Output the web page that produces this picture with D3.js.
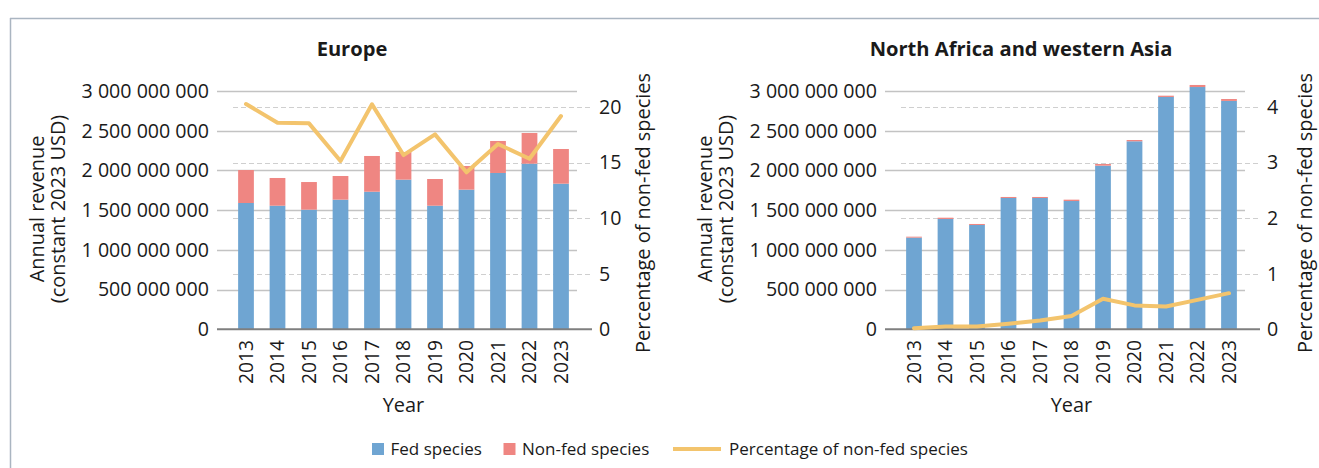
<!DOCTYPE html>
<html><head><meta charset="utf-8">
<script src="https://cdn.jsdelivr.net/npm/d3@7"></script>
<style>
body{margin:0;background:#fff}
svg{display:block}
text{font-family:"Open Sans",sans-serif;fill:#1a1a1a;font-weight:400}
</style>
</head><body>
<svg id="c" width="1319" height="468"></svg>
<script>
// ---------- DATA ----------
const years = ["2013","2014","2015","2016","2017","2018","2019","2020","2021","2022","2023"];
const europeFed    = [1590e6,1556e6,1506e6,1632e6,1732e6,1884e6,1556e6,1758e6,1968e6,2085e6,1833e6];
const europeNonFed = [415e6,349e6,348e6,298e6,450e6,348e6,336e6,298e6,403e6,386e6,437e6];
const europePct    = [20.26,18.58,18.52,15.13,20.23,15.67,17.53,14.12,16.66,15.34,19.18];
const nawaFed      = [1154e6,1389e6,1313e6,1653e6,1653e6,1615e6,2060e6,2367e6,2925e6,3050e6,2875e6];
const nawaNonFed   = [12e6,16e6,13e6,13e6,13e6,17e6,21e6,16e6,16e6,26e6,24e6];
const nawaPct      = [0.02,0.05,0.05,0.10,0.16,0.24,0.55,0.43,0.41,0.53,0.65];
const leftTicks    = [0,500e6,1000e6,1500e6,2000e6,2500e6,3000e6];
const europePctTicks = [0,5,10,15,20];
const nawaPctTicks   = [0,1,2,3,4];
const titles = ["Europe","North Africa and western Asia"];
const legendLabels = ["Fed species","Non-fed species","Percentage of non-fed species"];

// ---------- STYLE ----------
const C_FED = "#6fa5d2", C_NON = "#ef8682", C_LINE = "#f3c46d";
const svg = d3.select("#c");

function fitSize(txt, weight, target){
  const t = svg.append("text").attr("font-size",20).style("font-weight",weight).text(txt);
  const w = t.node().getComputedTextLength(); t.remove();
  return 20*target/w;
}
const W = 400;
const tickSize  = fitSize("3 000 000 000",W,127.5);
const yearSize  = fitSize("2013",W,44);
const titleSize = fitSize("North Africa and western Asia",700,303);
const axTitleSize = fitSize("Percentage of non-fed species",W,280);
const legSize   = fitSize("Percentage of non-fed species",W,239);

// frame
svg.append("line").attr("x1",10).attr("x2",1319).attr("y1",18.5).attr("y2",18.5).attr("stroke","#aab5c1").attr("stroke-width",1.5);
svg.append("line").attr("x1",10.5).attr("x2",10.5).attr("y1",18).attr("y2",468).attr("stroke","#aab5c1").attr("stroke-width",1.5);

const fmt = v => d3.format(",")(v).replace(/,/g," ");

const panels = [
  {dx:0, fed:europeFed, non:europeNonFed, pct:europePct, pctTicks:europePctTicks, pctMax:21.43,
   title:titles[0], titleX:352, rTitleX:643.5},
  {dx:668, fed:nawaFed, non:nawaNonFed, pct:nawaPct, pctTicks:nawaPctTicks, pctMax:4.286,
   title:titles[1], titleX:1021, rTitleX:1305}
];

const y0 = 329.3, yTop = 91;

panels.forEach(p => {
  const g = svg.append("g").attr("transform",`translate(${p.dx},0)`);
  const x = d3.scaleBand().domain(years).range([230.25,576.75]).paddingInner(0.5).paddingOuter(0.25);
  const y = d3.scaleLinear().domain([0,3000e6]).range([y0,yTop]);
  const y2 = d3.scaleLinear().domain([0,p.pctMax]).range([y0,yTop]);

  // dashed secondary grid
  g.append("g").selectAll("line").data(p.pctTicks.filter(d=>d>0)).join("line")
    .attr("x1",233).attr("x2",591).attr("y1",d=>Math.round(y2(d))+0.5).attr("y2",d=>Math.round(y2(d))+0.5)
    .attr("stroke","#cfcfcf").attr("stroke-width",1.2).attr("stroke-dasharray","5,3");
  // solid primary grid
  g.append("g").selectAll("line").data(leftTicks.filter(d=>d>0)).join("line")
    .attr("x1",217).attr("x2",577).attr("y1",d=>Math.round(y(d))+0.5).attr("y2",d=>Math.round(y(d))+0.5)
    .attr("stroke","#c3c3c3").attr("stroke-width",1.5);

  // bars
  g.append("g").selectAll("rect").data(years).join("rect")
    .attr("x",d=>x(d)).attr("width",x.bandwidth())
    .attr("y",(d,i)=>y(p.fed[i])).attr("height",(d,i)=>y0-y(p.fed[i])).attr("fill",C_FED);
  g.append("g").selectAll("rect").data(years).join("rect")
    .attr("x",d=>x(d)).attr("width",x.bandwidth())
    .attr("y",(d,i)=>y(p.fed[i]+p.non[i])).attr("height",(d,i)=>y(p.fed[i])-y(p.fed[i]+p.non[i])).attr("fill",C_NON);

  // baseline
  g.append("line").attr("x1",217).attr("x2",592).attr("y1",y0).attr("y2",y0)
    .attr("stroke","#7f7f7f").attr("stroke-width",2);

  // line
  g.append("path").datum(p.pct)
    .attr("d",d3.line().x((d,i)=>x(years[i])+x.bandwidth()/2).y(d=>y2(d)))
    .attr("fill","none").attr("stroke",C_LINE).attr("stroke-width",4).attr("stroke-linejoin","round").attr("stroke-linecap","round");

  // left tick labels
  g.append("g").selectAll("text").data(leftTicks).join("text")
    .attr("x",209).attr("y",d=>y(d)).attr("dy","0.35em").attr("text-anchor","end")
    .attr("font-size",tickSize).text(fmt);
  // right tick labels
  g.append("g").selectAll("text").data(p.pctTicks).join("text")
    .attr("x",599).attr("y",d=>y2(d)).attr("dy","0.35em").attr("text-anchor","start")
    .attr("font-size",tickSize).text(d=>d);
  // year labels
  g.append("g").selectAll("text").data(years).join("text")
    .attr("transform",d=>`translate(${x(d)+x.bandwidth()/2},340) rotate(-90)`)
    .attr("text-anchor","end").attr("dy","0.35em").attr("font-size",yearSize).text(d=>d);

  // titles
  svg.append("text").attr("x",p.titleX).attr("y",49).attr("dy","0.35em").attr("text-anchor","middle")
    .style("font-weight",700).attr("font-size",titleSize).text(p.title);
  g.append("text").attr("x",403.5).attr("y",405).attr("dy","0.35em").attr("text-anchor","middle")
    .attr("font-size",axTitleSize).text("Year");
  g.append("text").attr("transform","translate(37.5,209) rotate(-90)").attr("dy","0.35em")
    .attr("text-anchor","middle").attr("font-size",axTitleSize).text("Annual revenue");
  g.append("text").attr("transform","translate(58.5,209) rotate(-90)").attr("dy","0.35em")
    .attr("text-anchor","middle").attr("font-size",axTitleSize).text("(constant 2023 USD)");
  svg.append("text").attr("transform",`translate(${p.rTitleX},213) rotate(-90)`).attr("dy","0.35em")
    .attr("text-anchor","middle").attr("font-size",axTitleSize).text("Percentage of non-fed species");
});

// legend
const lg = svg.append("g");
lg.append("rect").attr("x",372).attr("y",443).attr("width",12).attr("height",12).attr("fill",C_FED);
lg.append("text").attr("x",390.5).attr("y",449).attr("dy","0.35em").attr("font-size",legSize).text(legendLabels[0]);
lg.append("rect").attr("x",503.5).attr("y",443).attr("width",12).attr("height",12).attr("fill",C_NON);
lg.append("text").attr("x",522).attr("y",449).attr("dy","0.35em").attr("font-size",legSize).text(legendLabels[1]);
lg.append("line").attr("x1",673).attr("x2",721).attr("y1",449).attr("y2",449).attr("stroke",C_LINE).attr("stroke-width",4);
lg.append("text").attr("x",729).attr("y",449).attr("dy","0.35em").attr("font-size",legSize).text(legendLabels[2]);
</script>
</body></html>
